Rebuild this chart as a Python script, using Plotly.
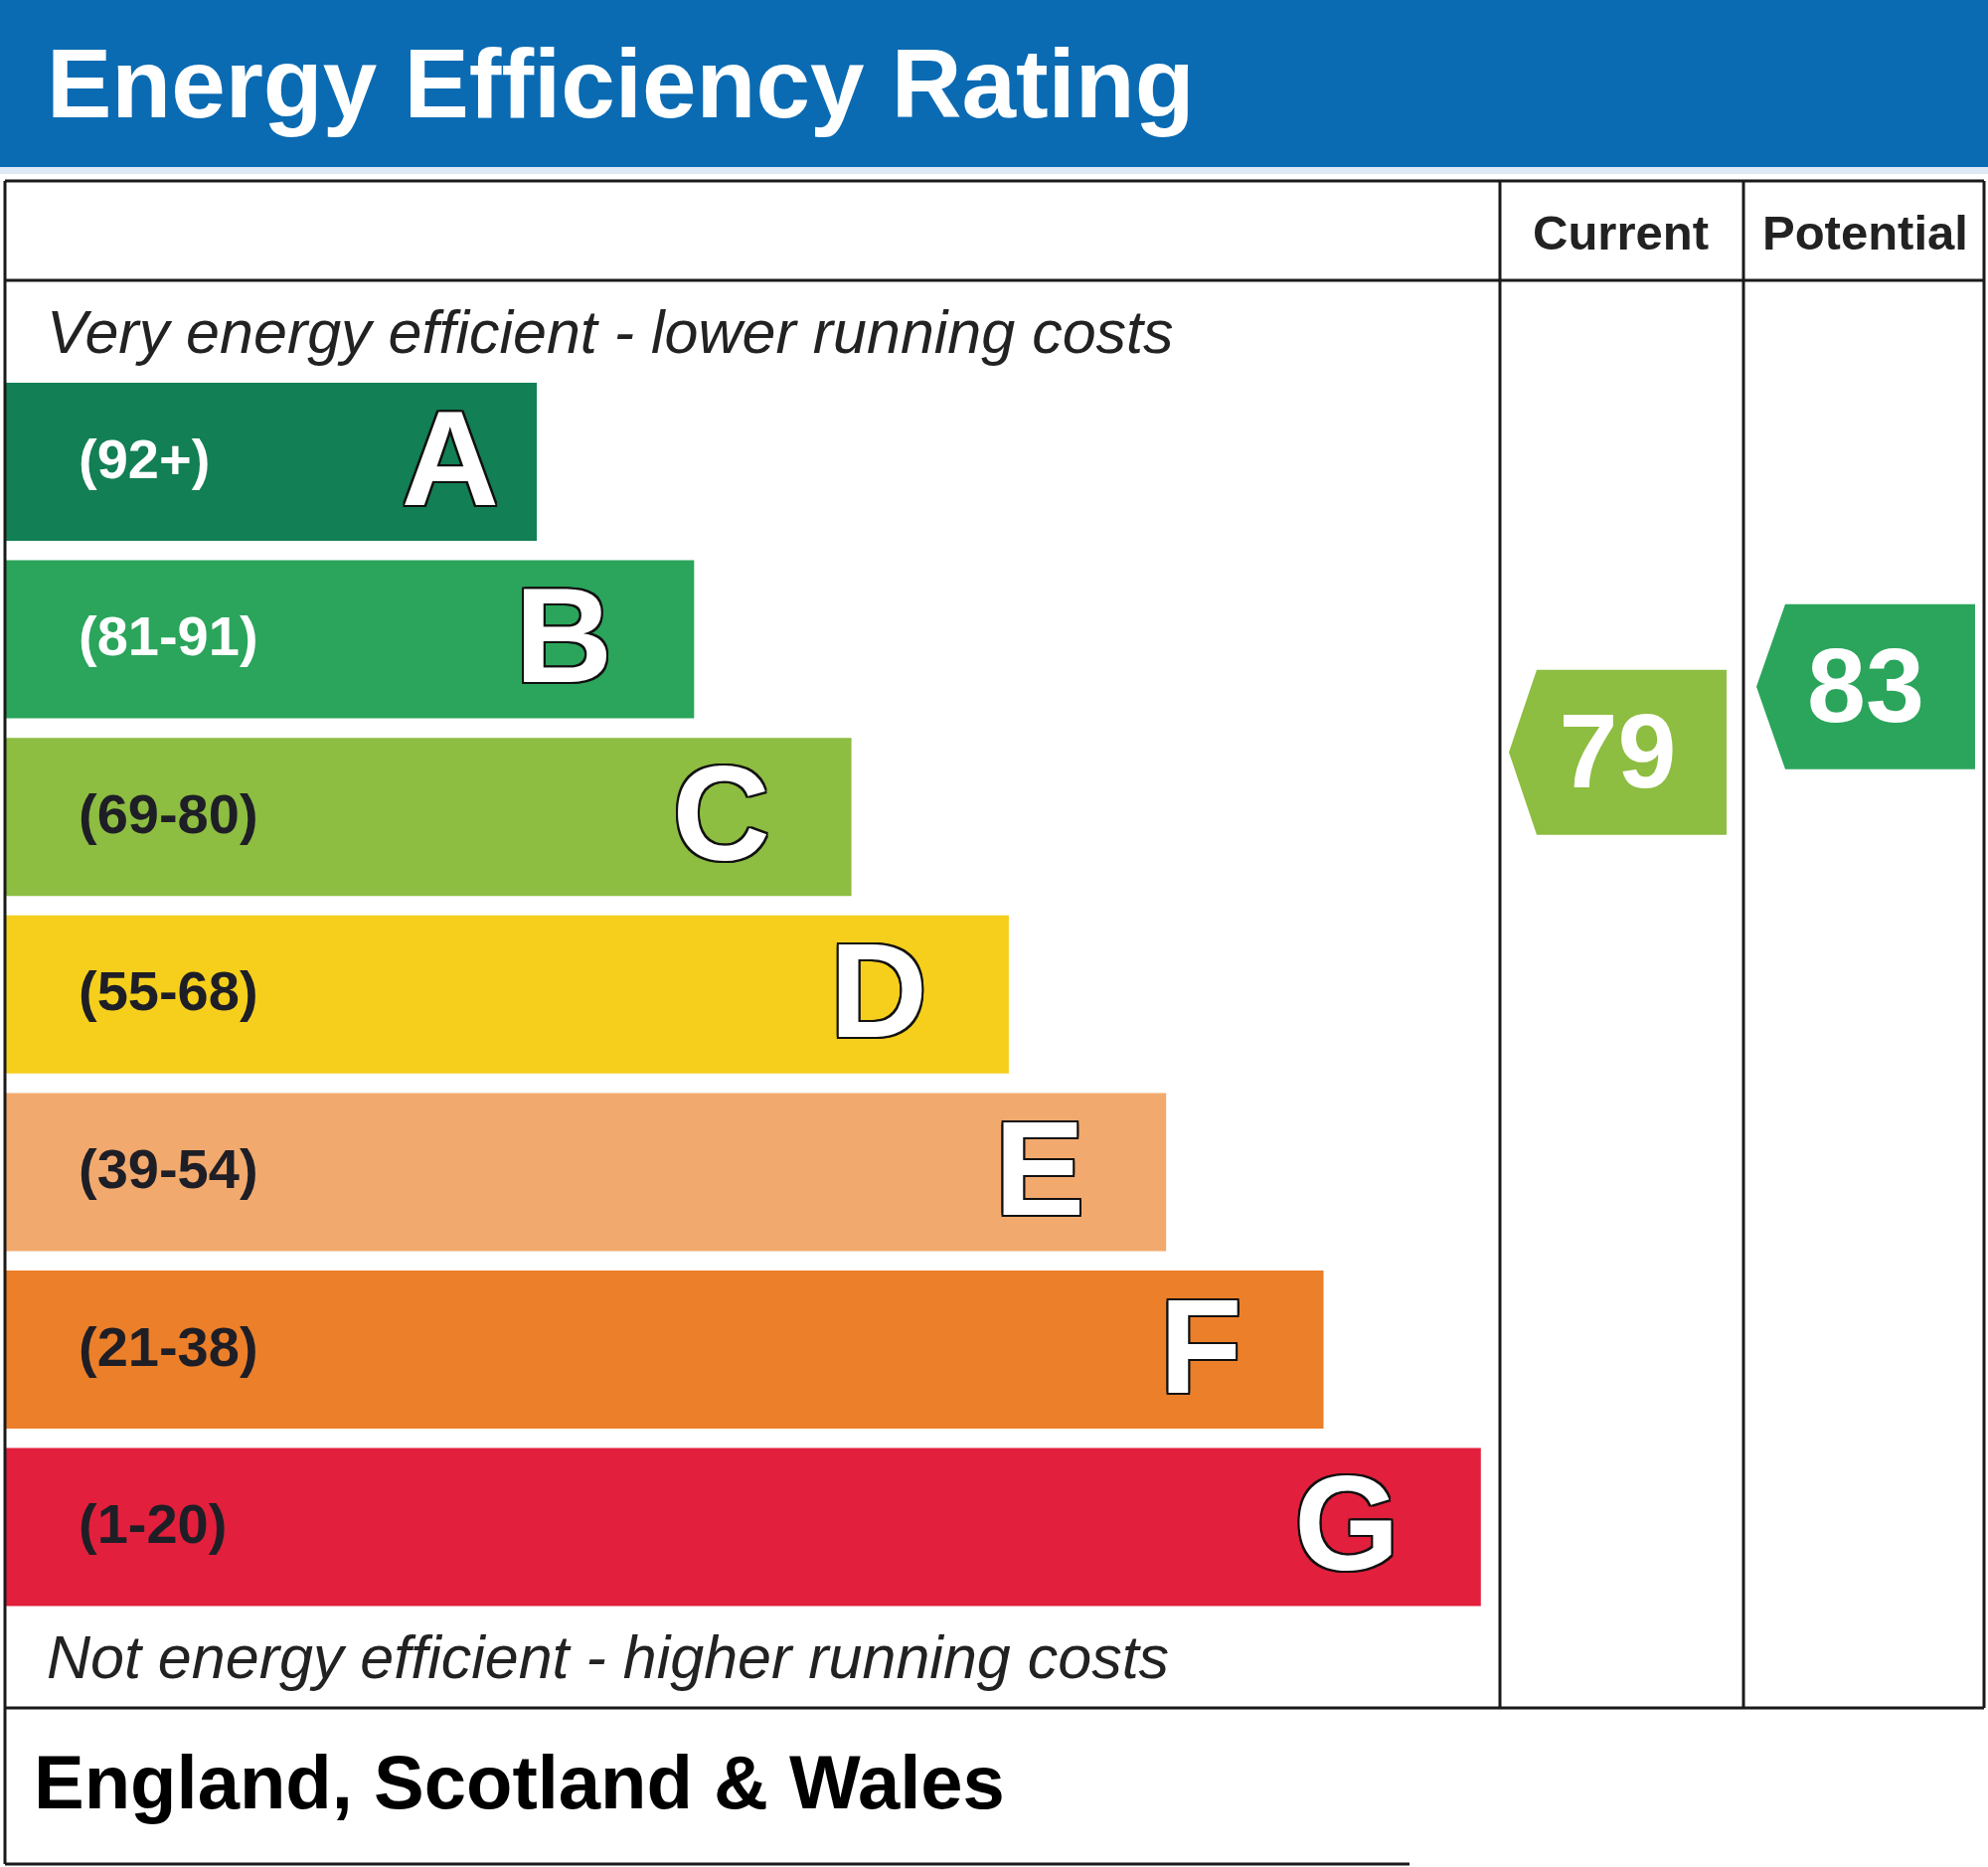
import plotly.graph_objects as go

# EPC bands, top (most efficient) to bottom
bands = ["A", "B", "C", "D", "E", "F", "G"]
band_ranges = ["(92+)", "(81-91)", "(69-80)", "(55-68)", "(39-54)", "(21-38)", "(1-20)"]
band_low = [92, 81, 69, 55, 39, 21, 1]
band_high = [100, 91, 80, 68, 54, 38, 20]

current_rating = 79
potential_rating = 83

band_colours = ["#127f54", "#2aa55b", "#8dbd41", "#f5cf1b", "#f2a96d", "#ec7f29", "#e21f3c"]
label_colours = ["white", "white", "#1e1e26", "#1e1e26", "#1e1e26", "#1e1e26", "#1e1e26"]

W, H = 2000, 1878
FONT = "Liberation Sans, Arial, sans-serif"

# layout of the rows (pixel space, y grows downwards)
row_top0 = 385
row_step = 178.6
row_h = 159
bar_x0 = 5
bar_len0 = 535
bar_step = 158.3

row_centers = [row_top0 + i * row_step + row_h / 2 for i in range(len(bands))]
bar_lengths = [bar_len0 + i * bar_step for i in range(len(bands))]
bar_ends = [bar_x0 + l for l in bar_lengths]


def rating_y(v):
    # position a rating inside its band, linear between band low/high
    for i, (lo, hi) in enumerate(zip(band_low, band_high)):
        if lo <= v <= hi:
            frac = (v - lo) / (hi - lo)
            bottom = row_centers[i] + row_h / 2
            return bottom - frac * row_h
    return row_centers[-1]


def band_of(v):
    for i, (lo, hi) in enumerate(zip(band_low, band_high)):
        if lo <= v <= hi:
            return i
    return len(bands) - 1


fig = go.Figure()

fig.add_trace(go.Bar(
    orientation="h",
    y=row_centers,
    x=bar_lengths,
    base=bar_x0,
    width=row_h,
    marker=dict(color=band_colours, line=dict(width=0)),
    hoverinfo="skip",
    showlegend=False,
))

# range labels on the left of each bar
fig.add_trace(go.Scatter(
    x=[79] * len(bands),
    y=[c + 2 for c in row_centers],
    mode="text",
    text=band_ranges,
    textposition="middle right",
    textfont=dict(family=FONT, size=56, color=label_colours, weight="bold"),
    hoverinfo="skip",
    showlegend=False,
))

# big outlined band letters (A sits closer to the end of its short bar)
outline = ("2px 2px 0 #111, -2px -2px 0 #111, 2px -2px 0 #111, -2px 2px 0 #111, "
           "0 2px 0 #111, 2px 0 0 #111, 0 -2px 0 #111, -2px 0 0 #111")
letter_x = [e - (38 if i == 0 else 82) for i, e in enumerate(bar_ends)]
fig.add_trace(go.Scatter(
    x=letter_x,
    y=[c + 9 for c in row_centers],
    mode="text",
    text=bands,
    textposition="middle left",
    textfont=dict(family=FONT, size=136, color="white", weight="bold", shadow=outline),
    hoverinfo="skip",
    showlegend=False,
))

# current / potential arrows
arrow_h = 166
for value, tip, left, right in [(current_rating, 1518, 1546, 1737),
                                (potential_rating, 1767, 1796, 1987)]:
    cy = rating_y(value)
    col = band_colours[band_of(value)]
    fig.add_trace(go.Scatter(
        x=[tip, left, right, right, left, tip],
        y=[cy, cy - arrow_h / 2, cy - arrow_h / 2, cy + arrow_h / 2, cy + arrow_h / 2, cy],
        mode="lines",
        fill="toself",
        fillcolor=col,
        line=dict(width=0, color=col),
        hoverinfo="skip",
        showlegend=False,
    ))
    fig.add_trace(go.Scatter(
        x=[(tip + right) / 2],
        y=[cy + 9],
        mode="text",
        text=[str(value)],
        textposition="middle center",
        textfont=dict(family=FONT, size=106, color="white", weight="bold"),
        hoverinfo="skip",
        showlegend=False,
    ))

line = dict(color="#1a1a1a", width=3)
shapes = [
    dict(type="rect", x0=0, x1=W, y0=0, y1=168, fillcolor="#0a6bb3", line=dict(width=0), layer="below"),
    dict(type="rect", x0=0, x1=W, y0=168, y1=175, fillcolor="#dfe9f5", line=dict(width=0), layer="below"),
    dict(type="line", x0=5, x1=1996, y0=182, y1=182, line=line),
    dict(type="line", x0=5, x1=1996, y0=282, y1=282, line=line),
    dict(type="line", x0=5, x1=1996, y0=1718, y1=1718, line=line),
    dict(type="line", x0=5, x1=1418, y0=1875, y1=1875, line=line),
    dict(type="line", x0=5, x1=5, y0=182, y1=1875, line=line),
    dict(type="line", x0=1996, x1=1996, y0=182, y1=1718, line=line),
    dict(type="line", x0=1509, x1=1509, y0=182, y1=1718, line=line),
    dict(type="line", x0=1754, x1=1754, y0=182, y1=1718, line=line),
]

annotations = [
    dict(x=45, y=84, text="<b>Energy Efficiency Rating</b>", xanchor="left", yanchor="middle",
         font=dict(family=FONT, size=98, color="white")),
    dict(x=1630, y=234, text="<b>Current</b>", xanchor="center", yanchor="middle",
         font=dict(family=FONT, size=49, color="#222222")),
    dict(x=1876, y=234, text="<b>Potential</b>", xanchor="center", yanchor="middle",
         font=dict(family=FONT, size=49, color="#222222")),
    dict(x=45, y=334, text="<i>Very energy efficient - lower running costs</i>", xanchor="left",
         yanchor="middle", font=dict(family=FONT, size=61, color="#222222")),
    dict(x=45, y=1667, text="<i>Not energy efficient - higher running costs</i>", xanchor="left",
         yanchor="middle", font=dict(family=FONT, size=61, color="#222222")),
    dict(x=32, y=1792, text="<b>England, Scotland &amp; Wales</b>", xanchor="left", yanchor="middle",
         font=dict(family=FONT, size=76, color="black")),
]
for a in annotations:
    a.update(xref="x", yref="y", showarrow=False)

fig.update_layout(
    width=W,
    height=H,
    margin=dict(l=0, r=0, t=0, b=0),
    paper_bgcolor="white",
    plot_bgcolor="white",
    shapes=shapes,
    annotations=annotations,
    xaxis=dict(range=[0, W], visible=False, fixedrange=True),
    yaxis=dict(range=[H, 0], visible=False, fixedrange=True),
    showlegend=False,
)

# drop the default page margin so the figure sits in the corner of the window
fig.write_html("out.html", config={"displayModeBar": False},
               post_script="document.body.style.margin='0px';")
